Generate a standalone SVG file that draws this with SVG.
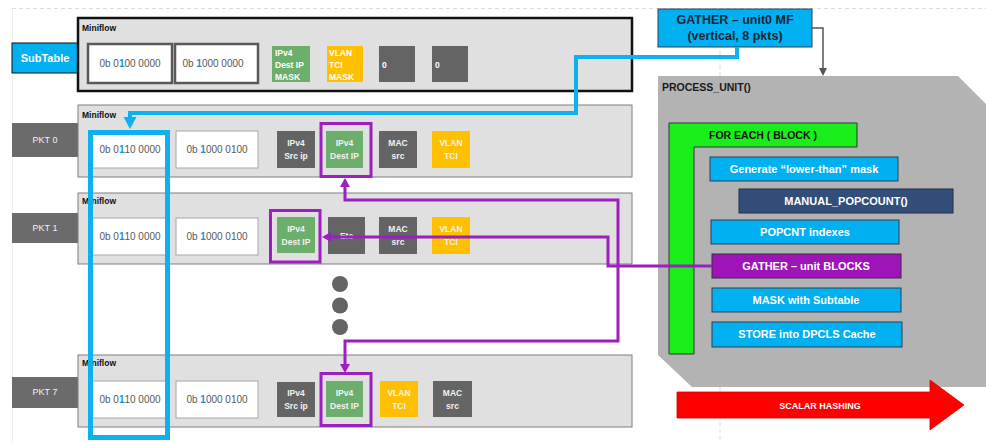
<svg xmlns="http://www.w3.org/2000/svg" width="986" height="443" viewBox="0 0 986 443">
  <defs>
    <style>
      text { font-family: "Liberation Sans", Arial, sans-serif; }
      .mf { fill: #e0e0e0; stroke: #7f7f7f; stroke-width: 1; }
      .mfk { fill: #e0e0e0; stroke: #111; stroke-width: 2.5; }
      .val { fill: #fff; stroke: #a6a6a6; stroke-width: 1; }
      .valk { fill: #fff; stroke: #595959; stroke-width: 2.5; }
      .grn { fill: #6cae6c; }
      .yel { fill: #ffc000; }
      .dk { fill: #646464; }
      .pkt { fill: #6b6b6b; }
      .lbl { font-size: 8.5px; font-weight: bold; fill: #fff; }
      .lblc { font-size: 8.5px; font-weight: bold; fill: #f2f2f2; text-anchor: middle; }
      .pk { font-size: 9px; fill: #f2f2f2; text-anchor: middle; }
      .mft { font-size: 8.5px; font-weight: bold; fill: #111; }
      .num { font-size: 10px; fill: #595959; text-anchor: middle; }
      .one { fill: #1e90d8; font-weight: bold; }
      .blue { fill: #00b0f0; stroke: #2f3f55; stroke-width: 1; }
      .step { font-size: 11px; font-weight: bold; fill: #fff; text-anchor: middle; }
      .purp { fill: none; stroke: #9c1fbf; stroke-width: 3; }
      .out { fill: none; stroke: #9c1fbf; stroke-width: 3; }
      .guide { stroke: #dcdcdc; stroke-width: 1; stroke-dasharray: 4 3; fill: none; }
    </style>
  </defs>

  <rect width="986" height="443" fill="#fff"/>

  <!-- slide guides -->
  <g id="guides">
    <line class="guide" x1="12" y1="8.5" x2="986" y2="8.5"/>
    <line x1="12.5" y1="9" x2="12.5" y2="443" stroke="#f0f0f0" stroke-width="1"/>
    <line class="guide" x1="720" y1="9" x2="720" y2="443"/>
  </g>

  <!-- subtable row -->
  <g id="subtable">
    <rect x="12" y="43" width="66" height="30" fill="#00b0f0" stroke="#111" stroke-width="1"/>
    <text x="45" y="62" font-size="11" font-weight="bold" fill="#fff" text-anchor="middle">SubTable</text>
    <rect class="mfk" x="78" y="18" width="554" height="73"/>
    <text class="mft" x="82" y="31">Miniflow</text>
    <rect class="valk" x="88" y="44" width="84" height="39"/>
    <text class="num" x="130" y="67">0b 0<tspan class="one">1</tspan>00 0000</text>
    <rect class="valk" x="175" y="44" width="83" height="39"/>
    <text class="num" x="213" y="67">0b <tspan class="one">1</tspan>000 0000</text>
    <rect class="grn" x="272" y="46" width="38" height="36"/>
    <text class="lbl" x="275" y="55.5">IPv4</text>
    <text class="lbl" x="275" y="67.5">Dest IP</text>
    <text class="lbl" x="275" y="79.5">MASK</text>
    <rect class="yel" x="327" y="46" width="36" height="36"/>
    <text class="lbl" x="329" y="55.5">VLAN</text>
    <text class="lbl" x="329" y="67.5">TCI</text>
    <text class="lbl" x="329" y="79.5">MASK</text>
    <rect class="dk" x="379" y="46" width="36" height="36"/>
    <text class="lbl" x="382" y="67.5">0</text>
    <rect class="dk" x="432" y="46" width="36" height="36"/>
    <text class="lbl" x="435" y="67.5">0</text>
  </g>

  <!-- packet 0 -->
  <g id="pkt0">
    <rect class="pkt" x="12" y="123" width="66" height="34"/>
    <text class="pk" x="45" y="143">PKT 0</text>
    <rect class="mf" x="78" y="105" width="554" height="72"/>
    <text class="mft" x="82" y="118">Miniflow</text>
    <rect class="val" x="92" y="131" width="75" height="37"/>
    <text class="num" x="130" y="153">0b 0<tspan class="one">1</tspan>10 0000</text>
    <rect class="val" x="176" y="131" width="82" height="37"/>
    <text class="num" x="217" y="153">0b <tspan class="one">1</tspan>000 0100</text>
    <rect class="dk" x="277" y="131" width="38" height="37"/>
    <text class="lblc" x="296" y="146">IPv4</text>
    <text class="lblc" x="296" y="159">Src ip</text>
    <rect class="grn" x="326" y="131" width="37" height="37"/>
    <text class="lblc" x="344.5" y="146">IPv4</text>
    <text class="lblc" x="344.5" y="159">Dest IP</text>
    <rect class="out" x="321" y="123.5" width="50" height="53"/>
    <rect class="dk" x="379" y="131" width="38" height="37"/>
    <text class="lblc" x="398" y="146">MAC</text>
    <text class="lblc" x="398" y="159">src</text>
    <rect class="yel" x="432" y="131" width="38" height="37"/>
    <text class="lblc" x="451" y="146">VLAN</text>
    <text class="lblc" x="451" y="159">TCI</text>
  </g>

  <!-- packet 1 -->
  <g id="pkt1">
    <rect class="pkt" x="12" y="213" width="66" height="30"/>
    <text class="pk" x="45" y="231">PKT 1</text>
    <rect class="mf" x="78" y="193" width="554" height="71"/>
    <text class="mft" x="82" y="204">Miniflow</text>
    <rect class="val" x="92" y="218" width="75" height="37"/>
    <text class="num" x="130" y="240">0b 0<tspan class="one">1</tspan>10 0000</text>
    <rect class="val" x="176" y="218" width="82" height="37"/>
    <text class="num" x="217" y="240">0b <tspan class="one">1</tspan>000 0100</text>
    <rect class="grn" x="277" y="217" width="38" height="36"/>
    <text class="lblc" x="296" y="232">IPv4</text>
    <text class="lblc" x="296" y="245">Dest IP</text>
    <rect class="out" x="270.5" y="210.5" width="49.5" height="51.5"/>
    <rect class="dk" x="328" y="217" width="37" height="37"/>
    <text class="lblc" x="346.5" y="239">Etc</text>
    <rect class="dk" x="379" y="217" width="38" height="37"/>
    <text class="lblc" x="398" y="232">MAC</text>
    <text class="lblc" x="398" y="245">src</text>
    <rect class="yel" x="432" y="217" width="38" height="37"/>
    <text class="lblc" x="451" y="232">VLAN</text>
    <text class="lblc" x="451" y="245">TCI</text>
  </g>

  <!-- ellipsis between packets -->
  <g id="more" fill="#646464">
    <circle cx="340" cy="284" r="8"/>
    <circle cx="340" cy="305.5" r="8"/>
    <circle cx="340" cy="327" r="8"/>
  </g>

  <!-- packet 7 -->
  <g id="pkt7">
    <rect class="pkt" x="12" y="377" width="66" height="31"/>
    <text class="pk" x="45" y="395">PKT 7</text>
    <rect class="mf" x="78" y="355" width="554" height="72"/>
    <text class="mft" x="82" y="366">Miniflow</text>
    <rect class="val" x="92" y="381" width="75" height="37"/>
    <text class="num" x="130" y="403">0b 0<tspan class="one">1</tspan>10 0000</text>
    <rect class="val" x="176" y="381" width="82" height="37"/>
    <text class="num" x="217" y="403">0b <tspan class="one">1</tspan>000 0100</text>
    <rect class="dk" x="277" y="382" width="38" height="35"/>
    <text class="lblc" x="296" y="396">IPv4</text>
    <text class="lblc" x="296" y="409">Src ip</text>
    <rect class="grn" x="326" y="381" width="37" height="36"/>
    <text class="lblc" x="344.5" y="396">IPv4</text>
    <text class="lblc" x="344.5" y="409">Dest IP</text>
    <rect class="out" x="321" y="373.5" width="50" height="52"/>
    <rect class="yel" x="380" y="381" width="38" height="36"/>
    <text class="lblc" x="399" y="396">VLAN</text>
    <text class="lblc" x="399" y="409">TCI</text>
    <rect class="dk" x="433" y="381" width="39" height="36"/>
    <text class="lblc" x="452.5" y="396">MAC</text>
    <text class="lblc" x="452.5" y="409">src</text>
  </g>

  <!-- process unit -->
  <g id="process-unit">
    <polygon points="658,76 958,76 986,104 986,387 692,387 658,355" fill="#b3b3b3"/>
    <text x="662" y="91" font-size="10.5" font-weight="bold" fill="#1a1a1a">PROCESS_UNIT()</text>
  </g>

  <g id="for-each">
    <path d="M669,123 H857 V147 H694 V354 H669 Z" fill="#1aee1a" stroke="#333" stroke-width="1"/>
    <text x="763" y="139" font-size="10.5" font-weight="bold" fill="#111" text-anchor="middle">FOR EACH ( BLOCK )</text>
  </g>

  <g id="gen-mask">
    <rect class="blue" x="710" y="157" width="188" height="24"/>
    <text class="step" x="804" y="173">Generate “lower-than” mask</text>
  </g>
  <g id="manual-popcount">
    <rect x="739" y="189" width="214" height="24" fill="#344e7a" stroke="#1f2f4a" stroke-width="1"/>
    <text class="step" x="846" y="205">MANUAL_POPCOUNT()</text>
  </g>
  <g id="popcnt">
    <rect class="blue" x="711" y="220" width="188" height="24"/>
    <text class="step" x="805" y="236">POPCNT indexes</text>
  </g>
  <g id="gather-blocks">
    <rect x="712" y="254" width="189" height="24" fill="#9e14b8" stroke="#3a2a45" stroke-width="1"/>
    <text class="step" x="806" y="270">GATHER – unit BLOCKS</text>
  </g>
  <g id="mask-subtable">
    <rect class="blue" x="712" y="288" width="189" height="24"/>
    <text class="step" x="806" y="304">MASK with Subtable</text>
  </g>
  <g id="store-cache">
    <rect class="blue" x="712" y="322" width="190" height="25"/>
    <text class="step" x="807" y="338">STORE into DPCLS Cache</text>
  </g>

  <g id="scalar-hashing">
    <polygon points="677,392 930,392 930,380 964,405 930,430 930,418 677,418" fill="#ff0000" stroke="#d00000" stroke-width="0.8"/>
    <text x="820" y="409" font-size="9" font-weight="bold" fill="#fff" text-anchor="middle">SCALAR HASHING</text>
  </g>

  <g id="gather-mf">
    <rect class="blue" x="658" y="9" width="154" height="38"/>
    <text x="735" y="23.5" font-size="12.5" font-weight="bold" fill="#1c2536" text-anchor="middle">GATHER – unit0 MF</text>
    <text x="735" y="40" font-size="12.5" font-weight="bold" fill="#1c2536" text-anchor="middle">(vertical, 8 pkts)</text>
  </g>

  <!-- connectors -->
  <g id="connectors">
    <path d="M812,28 H823 V69" fill="none" stroke="#555" stroke-width="1.5"/>
    <polygon points="819,68 827,68 823,76" fill="#555"/>

    <path d="M737,47 V57 H576 V113 H130 V118" fill="none" stroke="#0fb0ee" stroke-width="4"/>
    <polygon points="123.5,117 136.5,117 130,129" fill="#0fb0ee"/>
    <rect x="90.5" y="132.5" width="77" height="305" fill="none" stroke="#0fb0ee" stroke-width="5"/>

    <path class="purp" d="M712,266 H608 V237 H330"/>
    <polygon points="331,232 331,242 322,237" fill="#9c1fbf"/>
    <path class="purp" d="M345,186 V200 H618 V341 H345 V365"/>
    <polygon points="340,187 350,187 345,178" fill="#9c1fbf"/>
    <polygon points="340,364 350,364 345,373" fill="#9c1fbf"/>
  </g>
</svg>
